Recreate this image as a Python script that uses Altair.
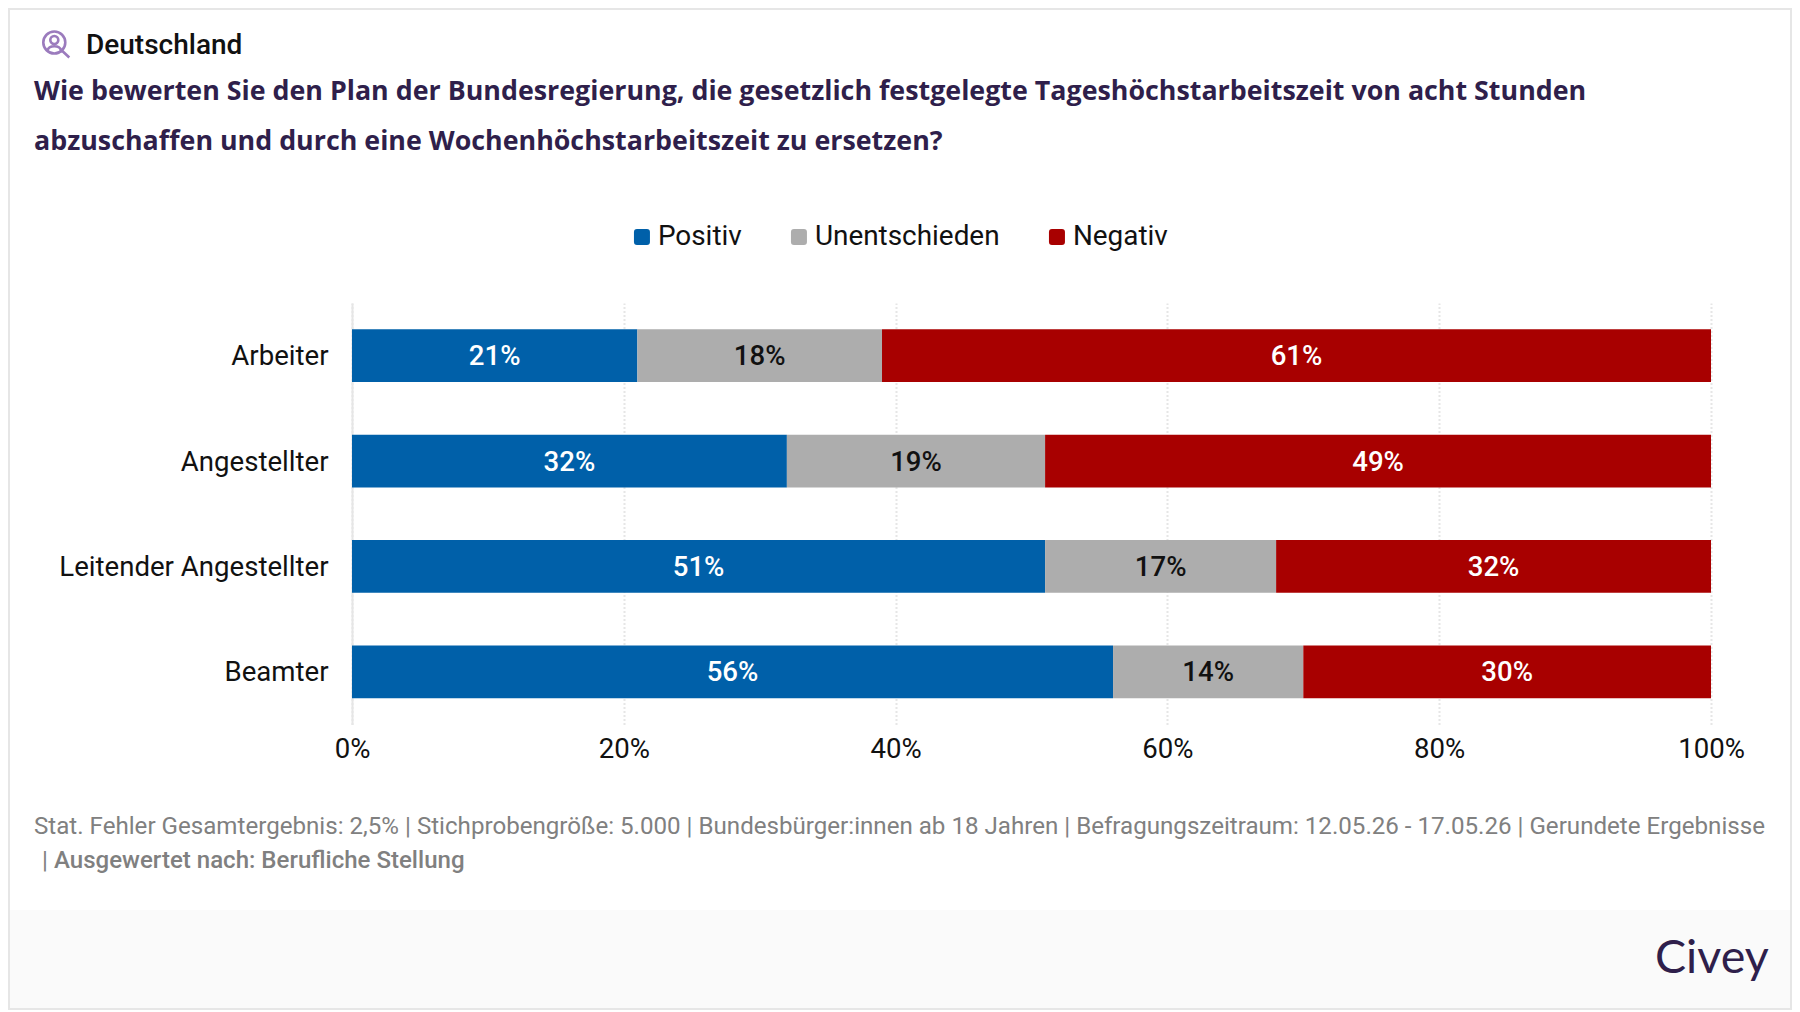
import altair as alt
import pandas as pd

# --- data ---
categories = ["Arbeiter", "Angestellter", "Leitender Angestellter", "Beamter"]
answers = ["Positiv", "Unentschieden", "Negativ"]
positiv = [21, 32, 51, 56]
unentschieden = [18, 19, 17, 14]
negativ = [61, 49, 32, 30]
colors = ["#0060A9", "#ADADAD", "#A80000"]
x_ticks = [0, 20, 40, 60, 80, 100]

title_1 = "Wie bewerten Sie den Plan der Bundesregierung, die gesetzlich festgelegte Tageshöchstarbeitszeit von acht Stunden"
title_2 = "abzuschaffen und durch eine Wochenhöchstarbeitszeit zu ersetzen?"
kicker = "Deutschland"
foot_1 = "Stat. Fehler Gesamtergebnis: 2,5% | Stichprobengröße: 5.000 | Bundesbürger:innen ab 18 Jahren | Befragungszeitraum: 12.05.26 - 17.05.26 | Gerundete Ergebnisse"
foot_2a = "|"
foot_2b = "Ausgewertet nach: Berufliche Stellung"
brand = "Civey"

rows = []
for i, c in enumerate(categories):
    for j, (a, vals) in enumerate(zip(answers, [positiv, unentschieden, negativ])):
        rows.append({"cat": c, "a": a, "o": j, "v": vals[i]})
df = pd.DataFrame(rows)

X0, Y0 = 352, 303  # plot origin in page pixels
FS = 27.6


def px(x):
    return x - X0


def py(y):
    return y - Y0


def text(s, x, y, size, color, font="Roboto", weight=400, align="left"):
    return alt.Chart(pd.DataFrame({"t": [s]})).mark_text(
        font=font, fontSize=size, fontWeight=weight, color=color, align=align, baseline="middle"
    ).encode(text="t:N", x=alt.value(px(x)), y=alt.value(py(y)))


def box(x1, x2, y1, y2, color):
    return alt.Chart(pd.DataFrame({"k": [0]})).mark_rect(color=color).encode(
        x=alt.value(px(x1)), x2=alt.value(px(x2)), y=alt.value(py(y1)), y2=alt.value(py(y2))
    )


Y = alt.Y("cat:N", sort=categories, title=None,
          scale=alt.Scale(paddingInner=0.5, paddingOuter=0.25),
          axis=alt.Axis(domain=True, domainColor="#E6E6E6", domainWidth=2, ticks=False, grid=False,
                        labelFont="Roboto", labelFontSize=FS, labelColor="#111111", labelPadding=24,
                        labelLimit=400, labelOffset=1.5))
X = alt.X("v:Q", stack="zero", title=None,
          scale=alt.Scale(domain=[0, 100], nice=False),
          axis=alt.Axis(values=x_ticks, domain=False, ticks=False, grid=True, gridColor="#E6E6E6",
                        gridWidth=2, gridDash=[2, 2], labelFont="Roboto", labelFontSize=FS,
                        labelColor="#111111", labelPadding=11, labelExpr="datum.value + '%'",
                        labelFlush=False))

legend_path = "M-.625,-1H.625Q1,-1 1,-.625V.625Q1,1 .625,1H-.625Q-1,1 -1,.625V-.625Q-1,-1 -.625,-1Z"

bars = alt.Chart(df).mark_bar(opacity=1).encode(
    x=X,
    y=Y,
    order=alt.Order("o:Q"),
    color=alt.Color("a:N", sort=answers, scale=alt.Scale(domain=answers, range=colors),
                    legend=alt.Legend(title=None, orient="none", direction="horizontal", columns=3,
                                      legendX=px(628), legendY=py(223), symbolType=legend_path,
                                      symbolSize=256, symbolStrokeWidth=0, symbolOpacity=1,
                                      labelFont="Roboto", labelFontSize=27.9, labelColor="#111111",
                                      labelOffset=2, columnPadding=43, labelLimit=400)),
)

labels = alt.Chart(df).transform_stack(
    stack="v", groupby=["cat"], sort=[alt.SortField("o")], as_=["s0", "s1"]
).transform_calculate(
    mid="(datum.s0 + datum.s1) / 2", lab="datum.v + '%'"
).mark_text(font="Roboto", fontSize=FS, fontWeight=500, baseline="middle", align="center", dy=1.5).encode(
    x=alt.X("mid:Q"),
    y=alt.Y("cat:N", sort=categories),
    text="lab:N",
    color=alt.condition("datum.a === 'Unentschieden'", alt.value("#111111"), alt.value("#FFFFFF")),
)

icon_path = ("M-11,0A11,11 0 1,1 11,0A11,11 0 1,1 -11,0Z"
             "M-4,-2.5A4,4 0 1,1 4,-2.5A4,4 0 1,1 -4,-2.5Z"
             "M-6.5,7.5C-5.5,2.5 5.5,2.5 6.5,7.5"
             "M7.5,8L15,15")
icon = alt.Chart(pd.DataFrame({"k": [0]})).mark_point(
    shape=icon_path, size=4, filled=False, stroke="#9B7BBD", strokeWidth=2.6, opacity=1
).encode(x=alt.value(px(54.3)), y=alt.value(py(42.5)))

layers = [
    box(8, 1792, 8, 10, "#E6E6E6"),
    box(8, 10, 8, 1010, "#E6E6E6"),
    box(1790, 1792, 8, 1010, "#E6E6E6"),
    box(10, 1790, 910, 1008, "#FAFAFA"),
    box(8, 1792, 1008, 1010, "#E6E6E6"),
    bars,
    labels,
    icon,
    text(kicker, 86, 45.5, 28, "#111111", weight=500),
    text(title_1, 34, 92, 26.82, "#2F1F4B", font="Open Sans", weight=700),
    text(title_2, 34, 141.5, 26.82, "#2F1F4B", font="Open Sans", weight=700),
    text(foot_1, 34, 827, 24.13, "#808080"),
    text(foot_2a, 42, 861, 24.13, "#808080"),
    text(foot_2b, 54, 861, 24.05, "#808080", weight=500),
    text(brand, 1655, 959, 46.6, "#2F1F4B", font="Lato", weight=400),
]

chart = alt.layer(*layers).resolve_scale(color="independent").properties(
    width=1359,
    height=421.5,
    padding={"left": X0 - 8, "top": Y0 - 8, "right": 1784 - (X0 - 8) - 1359, "bottom": 1002 - (Y0 - 8) - 421.5},
    autosize=alt.AutoSizeParams(type="none"),
    background="#FFFFFF",
).configure_view(strokeWidth=0)

chart.save("out.html", embed_options={"renderer": "svg", "actions": False})
